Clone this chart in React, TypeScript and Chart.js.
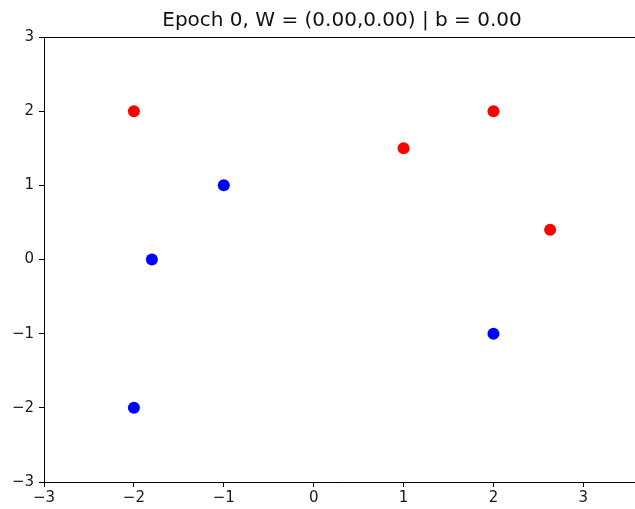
import React, { useEffect, useRef } from "react";
import { Chart, registerables } from "chart.js";

Chart.register(...registerables);

const titleText = "Epoch 0, W = (0.00,0.00) | b = 0.00";
const redX = [-2, 1, 2, 2.63];
const redY = [2, 1.5, 2, 0.4];
const blueX = [-1, -1.8, -2, 2];
const blueY = [1, 0, -2, -1];
const xTicks = [-3, -2, -1, 0, 1, 2, 3];
const yTicks = [-3, -2, -1, 0, 1, 2, 3];
const xMin = -3;
const xMax = 3.63;
const yMin = -3;
const yMax = 3;

const fmt = (v: number) => (v < 0 ? "\u2212" + Math.abs(v) : String(v));

const topSpine = {
  id: "topSpine",
  afterDraw(chart: any) {
    const { ctx, chartArea } = chart;
    ctx.save();
    ctx.strokeStyle = "#000";
    ctx.lineWidth = 1;
    ctx.beginPath();
    ctx.moveTo(chartArea.left, Math.round(chartArea.top) + 0.5);
    ctx.lineTo(chartArea.right, Math.round(chartArea.top) + 0.5);
    ctx.stroke();
    ctx.restore();
  },
};

export default function App() {
  const ref = useRef<HTMLCanvasElement>(null);
  useEffect(() => {
    if (!ref.current) return;
    const chart = new Chart(ref.current, {
      type: "scatter",
      data: {
        datasets: [
          {
            label: "red",
            data: redX.map((x, i) => ({ x, y: redY[i] })),
            backgroundColor: "#ff0000",
            borderColor: "#ff0000",
            pointRadius: 6,
            pointBorderWidth: 0,
          },
          {
            label: "blue",
            data: blueX.map((x, i) => ({ x, y: blueY[i] })),
            backgroundColor: "#0000ff",
            borderColor: "#0000ff",
            pointRadius: 6,
            pointBorderWidth: 0,
          },
        ],
      },
      options: {
        responsive: false,
        animation: false,
        devicePixelRatio: 1,
        layout: { padding: { left: 0, right: 1, top: 0, bottom: 0 } },
        plugins: {
          legend: { display: false },
          tooltip: { enabled: false },
          title: {
            display: true,
            text: titleText,
            fullSize: false,
            color: "#111",
            font: { family: "DejaVu Sans", size: 20, weight: "normal" },
            padding: { top: 9, bottom: 4 },
          },
        },
        scales: {
          x: {
            type: "linear",
            min: xMin,
            max: xMax,
            afterBuildTicks: (s: any) => {
              s.ticks = xTicks.map((v) => ({ value: v }));
            },
            afterFit: (s: any) => {
              s.height = 27;
            },
            grid: {
              drawOnChartArea: false,
              drawTicks: true,
              tickLength: 5,
              color: "#000",
            },
            border: { display: true, color: "#000", width: 1 },
            ticks: {
              color: "#1a1a1a",
              padding: 2,
              maxRotation: 0,
              font: { family: "DejaVu Sans", size: 15 },
              callback: (v: any) => fmt(Number(v)),
            },
          },
          y: {
            type: "linear",
            min: yMin,
            max: yMax,
            afterBuildTicks: (s: any) => {
              s.ticks = yTicks.map((v) => ({ value: v }));
            },
            afterFit: (s: any) => {
              s.width = 44;
            },
            grid: {
              drawOnChartArea: false,
              drawTicks: true,
              tickLength: 5,
              color: "#000",
            },
            border: { display: true, color: "#000", width: 1 },
            ticks: {
              color: "#1a1a1a",
              padding: 5,
              font: { family: "DejaVu Sans", size: 15 },
              callback: (v: any) => fmt(Number(v)),
            },
          },
        },
      },
      plugins: [topSpine],
    });
    return () => chart.destroy();
  }, []);
  return (
    <div
      style={{
        position: "absolute",
        left: 0,
        top: 0,
        width: 635,
        height: 509,
        overflow: "hidden",
        background: "#fff",
      }}
    >
      <canvas ref={ref} width={646} height={509} style={{ display: "block" }} />
    </div>
  );
}
